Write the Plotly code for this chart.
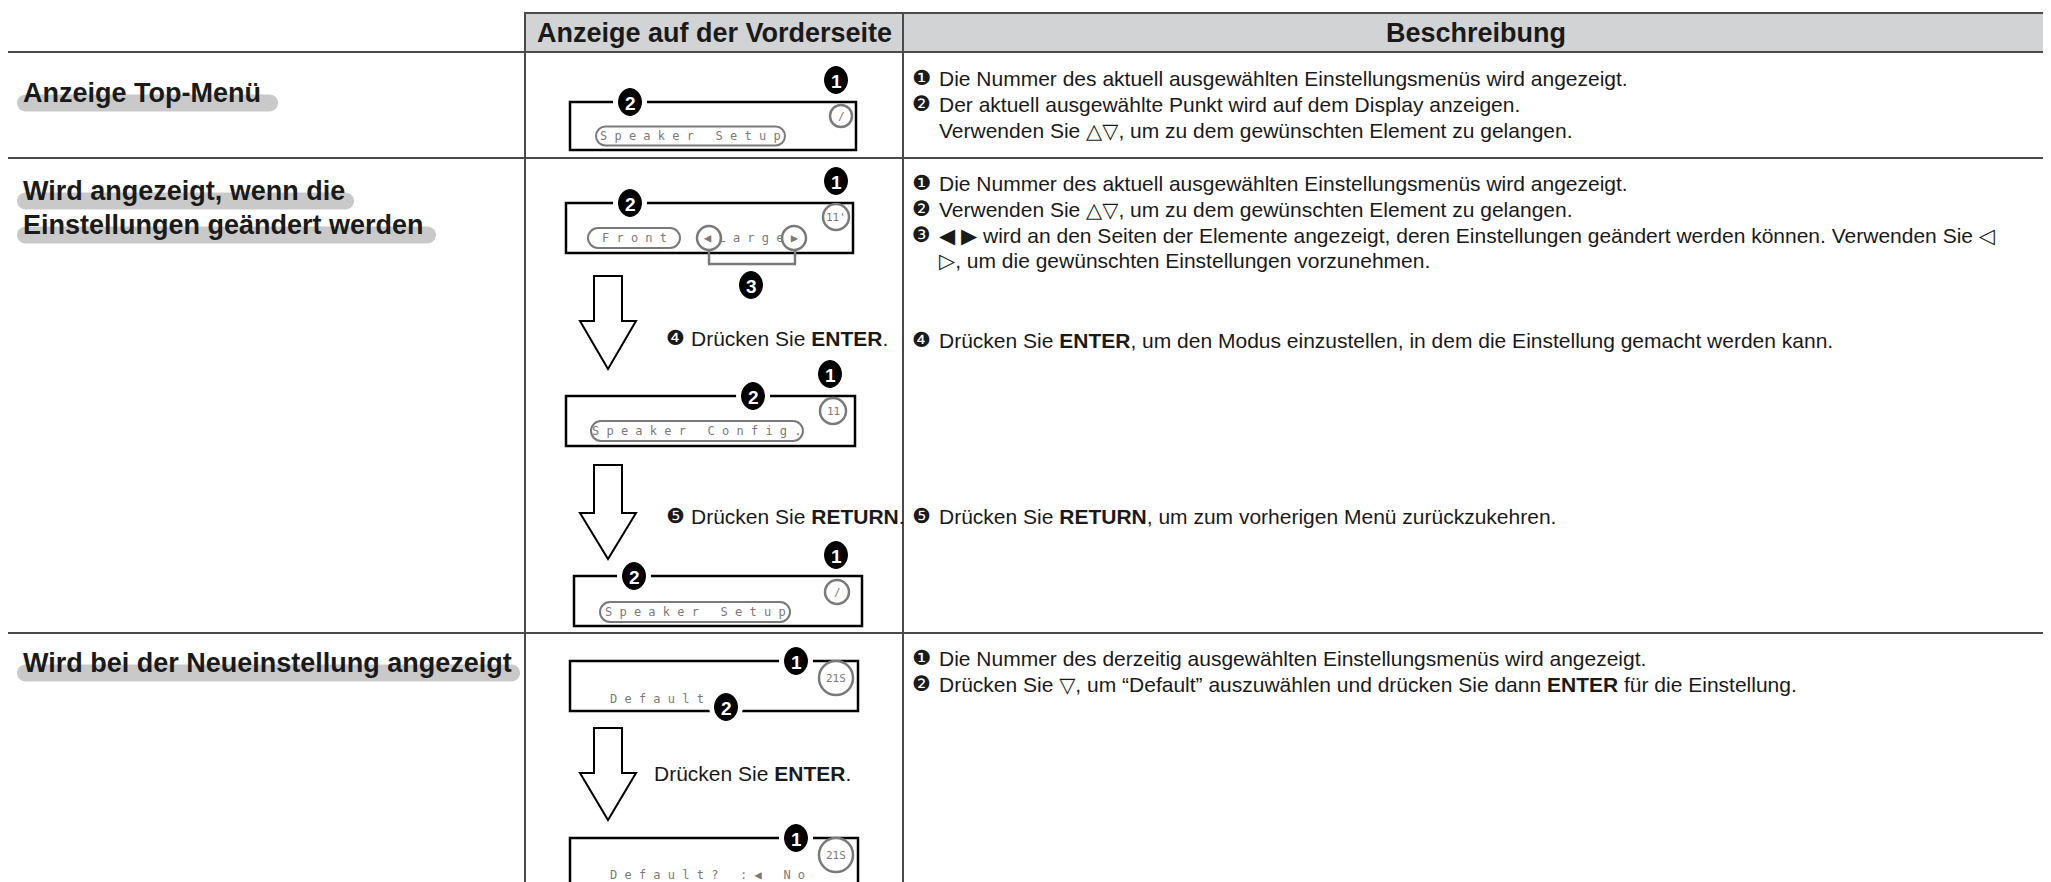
import plotly.graph_objects as go

W, H = 2051, 882

# ---------------- data (texts) ----------------
header_labels = ["Anzeige auf der Vorderseite", "Beschreibung"]
row_labels = [
    ["Anzeige Top-Menü"],
    ["Wird angezeigt, wenn die", "Einstellungen geändert werden"],
    ["Wird bei der Neueinstellung angezeigt"],
]
desc_markers_r1 = ["❶", "❷", ""]
desc_texts_r1 = [
    "Die Nummer des aktuell ausgewählten Einstellungsmenüs wird angezeigt.",
    "Der aktuell ausgewählte Punkt wird auf dem Display anzeigen.",
    "Verwenden Sie △▽, um zu dem gewünschten Element zu gelangen.",
]
desc_markers_r2 = ["❶", "❷", "❸", "", "❹", "❺"]
desc_texts_r2 = [
    "Die Nummer des aktuell ausgewählten Einstellungsmenüs wird angezeigt.",
    "Verwenden Sie △▽, um zu dem gewünschten Element zu gelangen.",
    "◀ ▶ wird an den Seiten der Elemente angezeigt, deren Einstellungen geändert werden können. Verwenden Sie ◁",
    "▷, um die gewünschten Einstellungen vorzunehmen.",
    "Drücken Sie <b>ENTER</b>, um den Modus einzustellen, in dem die Einstellung gemacht werden kann.",
    "Drücken Sie <b>RETURN</b>, um zum vorherigen Menü zurückzukehren.",
]
desc_markers_r3 = ["❶", "❷"]
desc_texts_r3 = [
    "Die Nummer des derzeitig ausgewählten Einstellungsmenüs wird angezeigt.",
    "Drücken Sie ▽, um “Default” auszuwählen und drücken Sie dann <b>ENTER</b> für die Einstellung.",
]
step_markers = ["❹", "❺", ""]
step_texts = ["Drücken Sie <b>ENTER</b>.", "Drücken Sie <b>RETURN</b>.", "Drücken Sie <b>ENTER</b>."]
lcd_texts = ["Speaker Setup", "Front", "◀Large▶", "Speaker Config.", "Speaker Setup", "Default", "Default? :◀ No"]
lcd_numbers = ["/", "11'", "11", "/", "21S", "21S"]
callout_numbers = ["1", "2", "3"]

# ---------------- styles ----------------
LINE = "#4a4a4a"
HEAD_FILL = "#d2d3d4"
HILITE = "#c9c9c9"
GREY = "#7a7a7a"
FONT = "Liberation Sans, Arial, DejaVu Sans, sans-serif"
MONO = "DejaVu Sans Mono, Liberation Mono, monospace"
K = 0.5523

shapes = []
annotations = []


def add_line(x0, y0, x1, y1, color=LINE, width=2):
    shapes.append(dict(type="line", x0=x0, y0=y0, x1=x1, y1=y1,
                       line=dict(color=color, width=width), layer="above"))


def add_rect(x0, y0, x1, y1, color=LINE, width=2, fill="rgba(0,0,0,0)"):
    shapes.append(dict(type="rect", x0=x0, y0=y0, x1=x1, y1=y1,
                       line=dict(color=color, width=width), fillcolor=fill, layer="above"))


def add_ellipse(cx, cy, rx, ry, color="black", width=1.5, fill="rgba(0,0,0,0)"):
    shapes.append(dict(type="circle", x0=cx - rx, y0=cy - ry, x1=cx + rx, y1=cy + ry,
                       line=dict(color=color, width=width), fillcolor=fill, layer="above"))


def capsule_path(x0, x1, yc, h):
    r = h / 2.0
    k = K * r
    return (f"M {x0 + r},{yc - r} L {x1 - r},{yc - r} "
            f"C {x1 - r + k},{yc - r} {x1},{yc - k} {x1},{yc} "
            f"C {x1},{yc + k} {x1 - r + k},{yc + r} {x1 - r},{yc + r} "
            f"L {x0 + r},{yc + r} "
            f"C {x0 + r - k},{yc + r} {x0},{yc + k} {x0},{yc} "
            f"C {x0},{yc - k} {x0 + r - k},{yc - r} {x0 + r},{yc - r} Z")


def add_capsule(x0, x1, yc, h, color=GREY, width=2, fill="rgba(0,0,0,0)"):
    shapes.append(dict(type="path", path=capsule_path(x0, x1, yc, h),
                       line=dict(color=color, width=width), fillcolor=fill, layer="above"))


def add_text(x, y, text, size=21, color="#1a1a1a", anchor="left", family=FONT):
    annotations.append(dict(x=x, y=y, xref="x", yref="y", text=text, showarrow=False,
                            xanchor=anchor, yanchor="middle",
                            font=dict(size=size, color=color, family=family)))


def add_callout(cx, cy, num, gap=True):
    if gap:
        add_ellipse(cx, cy, 17, 17, color="white", width=0, fill="white")
    add_ellipse(cx, cy, 11.5, 13.5, color="black", width=1, fill="black")
    add_text(cx, cy + 1, f"<b>{num}</b>", size=19, color="white", anchor="center")


def add_arrow(top, head, tip, xl=586, xr=614, hl=572, hr=628):
    xc = (hl + hr) / 2.0
    path = (f"M {xl},{top} L {xr},{top} L {xr},{head} L {hr},{head} L {xc},{tip} "
            f"L {hl},{head} L {xl},{head} Z")
    shapes.append(dict(type="path", path=path, line=dict(color="black", width=2),
                       fillcolor="white", layer="above"))


def spaced(s):
    return " ".join(list(s))


def add_lcd_badge(cx, cy, r, label):
    add_ellipse(cx, cy, r, r, color=GREY, width=2.5, fill="white")
    add_text(cx, cy, label, size=11, color=GREY, anchor="center", family=MONO)


# ---------------- table frame ----------------
X_MID, X_DESC, X_END = 517, 895, 2041
Y_TOP, Y_HEAD, Y_R1, Y_R2 = 5, 44, 150, 625

add_rect(X_MID, Y_TOP, X_END, Y_HEAD, color=LINE, width=2, fill=HEAD_FILL)
for y in (Y_HEAD, Y_R1, Y_R2):
    add_line(0, y, X_END, y)
for x in (X_MID, X_DESC, X_END):
    add_line(x, Y_TOP, x, H + 5)

add_text((X_MID + X_DESC) / 2, 25, f"<b>{header_labels[0]}</b>", size=27, anchor="center")
add_text((X_DESC + X_END) / 2, 25, f"<b>{header_labels[1]}</b>", size=27, anchor="center")

# ---------------- left labels with highlight ----------------
label_rows = [(row_labels[0], [85], [270]),
              (row_labels[1], [183, 217], [346, 428]),
              (row_labels[2], [655], [512])]
for texts, ys, ends in label_rows:
    for t, y, xe in zip(texts, ys, ends):
        add_capsule(9, xe, y + 10, 17, color=HILITE, width=0, fill=HILITE)
        add_text(13, y, f"<b>{t}</b>", size=27, color="#1a1a1a")


# ---------------- descriptions ----------------
def add_desc(markers, texts, ys):
    for m, t, y in zip(markers, texts, ys):
        if m:
            add_text(902, y, m, size=21, family="DejaVu Sans")
        add_text(929, y, t, size=21)


add_desc(desc_markers_r1, desc_texts_r1, [70, 96, 122])
add_desc(desc_markers_r2, desc_texts_r2, [175, 201, 227, 252, 332, 508])
add_desc(desc_markers_r3, desc_texts_r3, [650, 676])

# ---------------- middle column diagrams ----------------
# diagram 1: top menu
add_rect(562, 94, 848, 142, color="black", width=2.5)
add_callout(622, 94, callout_numbers[1])
add_callout(828, 72, callout_numbers[0], gap=False)
add_lcd_badge(833, 108, 11, lcd_numbers[0])
add_capsule(588, 777, 128, 19)
add_text(682, 128, spaced(lcd_texts[0]), size=12, color=GREY, anchor="center", family=MONO)

# diagram 2: settings changed
add_rect(558, 195, 845, 245, color="black", width=2.5)
add_callout(622, 195, callout_numbers[1])
add_callout(828, 173, callout_numbers[0], gap=False)
add_lcd_badge(828, 209, 13, lcd_numbers[1])
add_capsule(580, 672, 230, 20)
add_text(626, 230, spaced(lcd_texts[1]), size=12, color=GREY, anchor="center", family=MONO)
add_ellipse(701, 230, 12, 12, color=GREY, width=2.5)
add_ellipse(786, 230, 12, 12, color=GREY, width=2.5)
add_text(743, 230, spaced(lcd_texts[2]), size=12, color=GREY, anchor="center", family=MONO)
add_line(701, 242, 701, 256, color=GREY, width=2.5)
add_line(700, 256, 788, 256, color=GREY, width=2.5)
add_line(787, 242, 787, 256, color=GREY, width=2.5)
add_callout(743, 277, callout_numbers[2], gap=False)

add_arrow(268, 313, 361)
add_text(656, 330, step_markers[0], size=21, family="DejaVu Sans")
add_text(681, 330, step_texts[0], size=21)

# diagram 3: speaker config
add_rect(558, 388, 847, 438, color="black", width=2.5)
add_callout(745, 388, callout_numbers[1])
add_callout(822, 366, callout_numbers[0], gap=False)
add_lcd_badge(825, 403, 13, lcd_numbers[2])
add_capsule(583, 795, 423, 20)
add_text(689, 423, spaced(lcd_texts[3]), size=12, color=GREY, anchor="center", family=MONO)

add_arrow(457, 505, 551)
add_text(656, 508, step_markers[1], size=21, family="DejaVu Sans")
add_text(681, 508, step_texts[1], size=21)

# diagram 4: back to speaker setup
add_rect(566, 568, 854, 618, color="black", width=2.5)
add_callout(626, 568, callout_numbers[1])
add_callout(828, 547, callout_numbers[0], gap=False)
add_lcd_badge(829, 584, 12, lcd_numbers[3])
add_capsule(592, 782, 604, 20)
add_text(687, 604, spaced(lcd_texts[4]), size=12, color=GREY, anchor="center", family=MONO)

# diagram 5: default
add_rect(562, 653, 850, 703, color="black", width=2.5)
add_callout(788, 653, callout_numbers[0])
add_lcd_badge(828, 670, 17, lcd_numbers[4])
add_text(600, 691, spaced(lcd_texts[5]), size=12, color=GREY, anchor="left", family=MONO)
add_callout(718, 699, callout_numbers[1])

add_arrow(720, 765, 812)
add_text(644, 765, step_texts[2], size=21)

# diagram 6: default?
add_rect(562, 830, 850, 879, color="black", width=2.5)
add_callout(788, 830, callout_numbers[0])
add_lcd_badge(828, 847, 17, lcd_numbers[5])
add_text(600, 867, spaced(lcd_texts[6]), size=12, color=GREY, anchor="left", family=MONO)

fig = go.Figure()
fig.add_trace(go.Scatter(x=[0, W], y=[0, H], mode="markers",
                         marker=dict(opacity=0), hoverinfo="skip", showlegend=False))
fig.update_layout(
    width=W, height=H, autosize=False,
    margin=dict(l=0, r=0, t=0, b=0),
    paper_bgcolor="white", plot_bgcolor="white",
    xaxis=dict(range=[0, W], visible=False, fixedrange=True),
    yaxis=dict(range=[H, 0], visible=False, fixedrange=True),
    shapes=shapes, annotations=annotations, showlegend=False,
)
fig.write_html("out.html")
